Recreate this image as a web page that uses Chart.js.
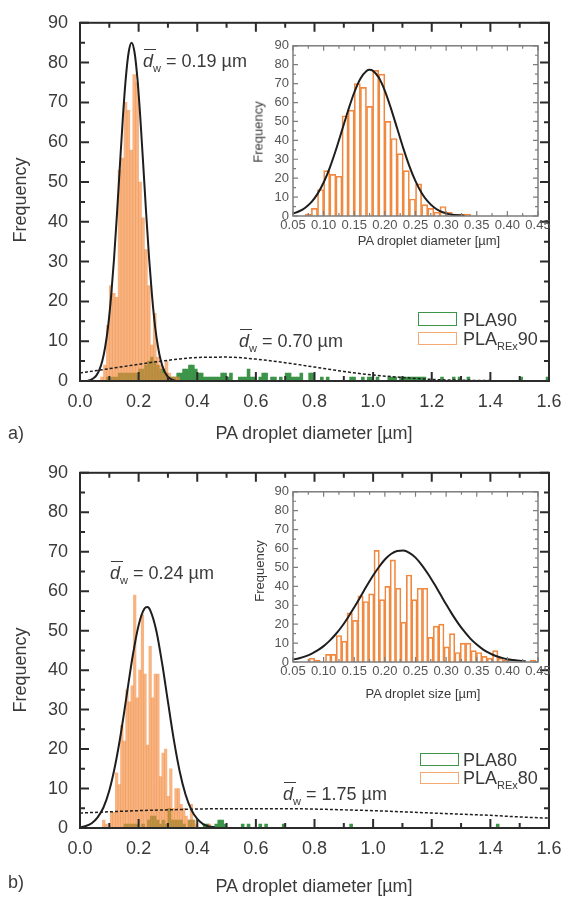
<!DOCTYPE html>
<html lang="en">
<head>
<meta charset="utf-8">
<title>PA droplet size distributions</title>
<script src="https://cdn.jsdelivr.net/npm/chart.js@4.4.1/dist/chart.umd.min.js"></script>
<style>
  body { margin: 0; background: #fff; }
  #fig { position: relative; width: 565px; height: 897px; overflow: hidden;
         font-family: 'Liberation Sans', Arial, sans-serif; color: #3a3a3a; }
  #fig canvas { position: absolute; }
  .t { position: absolute; font-size: 18px; line-height: 1; white-space: nowrap; }
  .s { font-size: 13px; }
  .rot { transform: translate(-50%, -50%) rotate(-90deg); }
  .ctr { transform: translateX(-50%); }
  .d { font-style: italic; position: relative; }
  .d::before { content: ''; position: absolute; left: 1px; right: -3px; top: -2px;
               border-top: 1.5px solid #3a3a3a; }
  sub { font-size: 11px; line-height: 0; vertical-align: -5px; }
  .key { position: absolute; box-sizing: border-box; width: 39px; border: 1.5px solid; }
</style>
</head>
<body>
<div id="fig">
  <canvas id="mainA" width="565" height="450" style="left:0;top:0"></canvas>
  <canvas id="insetA" width="315" height="215" style="left:250px;top:34px"></canvas>
  <canvas id="mainB" width="565" height="447" style="left:0;top:450px"></canvas>
  <canvas id="insetB" width="315" height="215" style="left:250px;top:480px"></canvas>

  <!-- panel a -->
  <div class="t rot" style="left:20px;top:200px">Frequency</div>
  <div class="t ctr" style="left:314px;top:424px">PA droplet diameter [µm]</div>
  <div class="t" style="left:8px;top:424px">a)</div>
  <div class="t" style="left:143px;top:52px"><span class="d">d</span><sub>w</sub> = 0.19 µm</div>
  <div class="t" style="left:239px;top:332px"><span class="d">d</span><sub>w</sub> = 0.70 µm</div>
  <div class="t s rot" style="left:258px;top:132px">Frequency</div>
  <div class="t s ctr" style="left:429px;top:234px">PA droplet diameter [µm]</div>
  <div class="key" style="left:418px;top:312px;height:13.5px;border-color:#3b9447"></div>
  <div class="key" style="left:418px;top:331.5px;height:13px;border-color:#f4aa72"></div>
  <div class="t" style="left:463px;top:311px">PLA90</div>
  <div class="t" style="left:463px;top:330px">PLA<sub>REx</sub>90</div>

  <!-- panel b -->
  <div class="t rot" style="left:20px;top:670px">Frequency</div>
  <div class="t ctr" style="left:314px;top:877px">PA droplet diameter [µm]</div>
  <div class="t" style="left:8px;top:873px">b)</div>
  <div class="t" style="left:110px;top:564px"><span class="d">d</span><sub>w</sub> = 0.24 µm</div>
  <div class="t" style="left:283px;top:785px"><span class="d">d</span><sub>w</sub> = 1.75 µm</div>
  <div class="t s rot" style="left:259px;top:571px">Frequency</div>
  <div class="t s ctr" style="left:423px;top:687px">PA droplet size [µm]</div>
  <div class="key" style="left:420px;top:752.5px;height:13px;border-color:#3b9447"></div>
  <div class="key" style="left:420px;top:771.5px;height:12.5px;border-color:#f4aa72"></div>
  <div class="t" style="left:463px;top:751px">PLA80</div>
  <div class="t" style="left:463px;top:769px">PLA<sub>REx</sub>80</div>
</div>

<script>
// ---- axes ----
const mainXTicks = [0.0, 0.2, 0.4, 0.6, 0.8, 1.0, 1.2, 1.4, 1.6];
const insetXTicks = [0.05, 0.10, 0.15, 0.20, 0.25, 0.30, 0.35, 0.40, 0.45];
const freqTicks = [0, 10, 20, 30, 40, 50, 60, 70, 80, 90];

// ---- panel a: PLA_REx90 histogram (bin centres, 0.01 µm bins) ----
const rex90Bin = 0.01;
const rex90X = [
  0.075, 0.085, 0.095, 0.105, 0.115, 0.125, 0.135, 0.145, 0.155, 0.165,
  0.175, 0.185, 0.195, 0.205, 0.215, 0.225, 0.235, 0.245, 0.255, 0.265,
  0.275, 0.285, 0.295, 0.305, 0.315, 0.325, 0.335
];
const rex90Counts = [
  1, 4, 14, 24, 22, 21, 53, 56, 70, 68,
  58, 77, 75, 50, 41, 33, 24, 9, 17, 6,
  4, 2, 5, 2, 1, 1, 1
];

// PLA90 histogram (non-empty 0.01 µm bins only)
const pla90X = [
  0.095, 0.105, 0.115, 0.125, 0.135, 0.145, 0.155, 0.165, 0.175, 0.185,
  0.195, 0.205, 0.215, 0.225, 0.235, 0.245, 0.255, 0.265, 0.275, 0.285,
  0.295, 0.305, 0.315, 0.325, 0.335, 0.345, 0.355, 0.365, 0.375, 0.385,
  0.395, 0.405, 0.415, 0.425, 0.435, 0.445, 0.455, 0.465, 0.475, 0.485,
  0.495, 0.505, 0.515, 0.545, 0.555, 0.565, 0.575, 0.585, 0.595, 0.615,
  0.625, 0.635, 0.655, 0.665, 0.685, 0.705, 0.715, 0.725, 0.735, 0.745,
  0.755, 0.785, 0.795, 0.825, 0.845, 0.925, 0.935, 0.965, 0.985, 0.995,
  1.015, 1.055, 1.065, 1.075, 1.095, 1.105, 1.115, 1.125, 1.135, 1.145,
  1.155, 1.165, 1.175, 1.235, 1.275, 1.295, 1.325, 1.505, 1.595
];
const pla90Counts = [
  1, 1, 1, 1, 2, 2, 2, 2, 2, 2,
  2, 3, 3, 4, 5, 6, 5, 4, 3, 3,
  2, 1, 1, 1, 2, 2, 3, 3, 4, 4,
  3, 2, 2, 1, 1, 1, 1, 1, 1, 2,
  2, 1, 2, 1, 1, 1, 3, 1, 1, 1,
  2, 2, 1, 1, 1, 2, 2, 1, 1, 1,
  2, 2, 2, 1, 1, 1, 1, 1, 1, 1,
  1, 1, 1, 1, 1, 1, 1, 1, 1, 1,
  1, 1, 1, 1, 1, 1, 1, 1, 1
];

// fitted curves
const fitRex90X = [
  0.026, 0.036, 0.046, 0.056, 0.066, 0.076, 0.086, 0.096, 0.106, 0.116, 0.126,
  0.136, 0.146, 0.156, 0.166, 0.176, 0.186, 0.196, 0.206, 0.216, 0.226,
  0.236, 0.246, 0.256, 0.266, 0.276, 0.286, 0.296, 0.306, 0.316, 0.326
];
const fitRex90Y = [
  0.1, 0.3, 0.7, 1.4, 2.8, 5.0, 8.6, 13.8, 21.2, 30.6, 41.8,
  54.0, 65.9, 75.9, 82.6, 85.0, 82.6, 75.9, 65.9, 54.0, 41.8,
  30.6, 21.2, 13.8, 8.6, 5.0, 2.8, 1.4, 0.7, 0.3, 0.1
];
const fitPla90X = [0, 0.1, 0.2, 0.3, 0.4, 0.5, 0.6, 0.7, 0.8, 0.9, 1.0, 1.1, 1.2, 1.3, 1.4, 1.5, 1.6];
const fitPla90Y = [2.0, 3.1, 4.2, 5.2, 5.9, 6.0, 5.5, 4.6, 3.5, 2.4, 1.5, 0.9, 0.4, 0.2, 0.1, 0.03, 0.01];
const insetFit90X = [
  0.05, 0.06, 0.07, 0.08, 0.09, 0.10, 0.11, 0.12, 0.13, 0.14, 0.15, 0.16, 0.17, 0.175,
  0.18, 0.19, 0.20, 0.21, 0.22, 0.23, 0.24, 0.25, 0.26, 0.27, 0.28, 0.29, 0.30, 0.31, 0.32, 0.33
];
const insetFit90Y = [
  1.3, 2.5, 4.4, 7.3, 11.7, 17.7, 25.5, 34.9, 45.3, 55.8, 65.3, 72.6, 76.7, 77.3,
  76.9, 73.2, 66.2, 56.8, 46.4, 35.9, 26.4, 18.4, 12.2, 7.7, 4.6, 2.6, 1.4, 0.7, 0.35, 0.16
];

// ---- panel b: PLA_REx80 histogram (0.0088 µm bins) ----
const rex80Bin = 0.0088;
const rex80X = [
  0.0810, 0.0898, 0.0986, 0.1074, 0.1162, 0.1250, 0.1338, 0.1426, 0.1514, 0.1602,
  0.1690, 0.1778, 0.1866, 0.1954, 0.2042, 0.2130, 0.2218, 0.2306, 0.2394, 0.2482,
  0.2570, 0.2658, 0.2746, 0.2834, 0.2922, 0.3010, 0.3098, 0.3186, 0.3274, 0.3362,
  0.3450, 0.3538, 0.3626, 0.3714, 0.3802, 0.3890, 0.3978, 0.4066, 0.4154, 0.4242,
  0.4330, 0.4418
];
const rex80Counts = [
  2, 1, 0, 4, 4, 14, 11, 26, 22, 35,
  32, 36, 59, 33, 40, 54, 39, 21, 46, 33,
  39, 39, 13, 19, 20, 8, 15, 5, 10, 10,
  6, 5, 3, 2, 6, 2, 1, 0, 0, 0,
  0, 1
];

// PLA80 histogram (non-empty 0.01 µm bins only)
const plaBin = 0.01;
const pla80X = [
  0.155, 0.165, 0.175, 0.185, 0.195, 0.215, 0.235, 0.245, 0.255, 0.265,
  0.275, 0.285, 0.295, 0.305, 0.315, 0.325, 0.335, 0.345, 0.355, 0.375,
  0.385, 0.425, 0.435, 0.465, 0.475, 0.485, 0.495, 0.555, 0.575, 0.615,
  0.635, 0.695, 0.925, 1.425
];
const pla80Counts = [
  1, 1, 1, 1, 1, 1, 2, 3, 3, 2,
  1, 2, 1, 5, 2, 2, 2, 2, 1, 2,
  2, 1, 1, 1, 2, 2, 1, 1, 1, 1,
  1, 1, 1, 1
];

// fitted curves
const fitRex80X = [
  0.00, 0.02, 0.04, 0.06, 0.08, 0.10, 0.12, 0.14, 0.16, 0.18, 0.20, 0.22, 0.23,
  0.24, 0.26, 0.28, 0.30, 0.32, 0.34, 0.36, 0.38, 0.40, 0.42, 0.44, 0.46
];
const fitRex80Y = [
  0.2, 0.5, 1.2, 2.7, 5.2, 9.5, 15.9, 24.2, 34.0, 43.7, 51.4, 55.6, 56.0,
  55.1, 50.1, 41.8, 32.0, 22.4, 14.4, 8.5, 4.6, 2.3, 1.0, 0.4, 0.2
];
const fitPla80X = [0, 0.1, 0.2, 0.3, 0.4, 0.5, 0.6, 0.7, 0.8, 0.9, 1.0, 1.1, 1.2, 1.3, 1.4, 1.5, 1.6];
const fitPla80Y = [3.8, 4.1, 4.4, 4.6, 4.8, 4.9, 4.9, 4.9, 4.8, 4.6, 4.4, 4.1, 3.8, 3.5, 3.2, 2.8, 2.5];
const insetFit80X = [
  0.05, 0.06, 0.07, 0.08, 0.09, 0.10, 0.11, 0.12, 0.13, 0.14, 0.15, 0.16, 0.17,
  0.18, 0.19, 0.20, 0.21, 0.22, 0.23, 0.24, 0.25, 0.26, 0.27, 0.28, 0.29, 0.30,
  0.31, 0.32, 0.33, 0.34, 0.35, 0.36, 0.37, 0.38, 0.39, 0.40, 0.41, 0.42, 0.43
];
const insetFit80Y = [
  1.3, 2.0, 3.0, 4.3, 6.1, 8.4, 11.3, 14.8, 18.9, 23.7, 28.9, 34.4, 40.0,
  45.3, 50.1, 54.2, 57.1, 58.7, 58.9, 57.7, 55.2, 51.4, 46.8, 41.6, 36.1, 30.5,
  25.2, 20.3, 16.0, 12.2, 9.2, 6.7, 4.8, 3.3, 2.3, 1.5, 1.0, 0.6, 0.4
];

const FONT = "'Liberation Sans', Arial, sans-serif";
const TEXT = '#3a3a3a';
const GREEN = '#3b9447';
// plot widths are fixed by the layout below, so px per µm is known
const MAIN_PX_PER_UM = 469 / 1.6;
const INSET_PX_PER_UM = 245 / 0.4;

// Inward ticks on all four sides plus the box frame
const frameTicks = {
    id: 'frameTicks',
    afterDraw(chart, args, o) {
        const { ctx, chartArea: a } = chart;
        const x = chart.scales.x, y = chart.scales.y;
        ctx.save();
        ctx.strokeStyle = o.color;
        ctx.lineWidth = o.tickWidth;
        ctx.beginPath();
        const nx = Math.round((x.max - x.min) / o.xMinor);
        for (let k = 0; k <= nx; k++) {
            const px = x.getPixelForValue(x.min + k * o.xMinor);
            const len = k % 2 === 0 ? o.major : o.minor;
            ctx.moveTo(px, a.bottom); ctx.lineTo(px, a.bottom - len);
            ctx.moveTo(px, a.top); ctx.lineTo(px, a.top + len);
        }
        const ny = Math.round((y.max - y.min) / o.yMinor);
        for (let k = 0; k <= ny; k++) {
            const py = y.getPixelForValue(y.min + k * o.yMinor);
            const len = k % 2 === 0 ? o.major : o.minor;
            ctx.moveTo(a.left, py); ctx.lineTo(a.left + len, py);
            ctx.moveTo(a.right, py); ctx.lineTo(a.right - len, py);
        }
        ctx.stroke();
        ctx.lineWidth = o.frameWidth;
        ctx.strokeRect(a.left, a.top, a.right - a.left, a.bottom - a.top);
        ctx.restore();
    }
};

const Figure = {
    charts: [],

    init() {
        this.renderMain('mainA', 20, {
            rex: [rex90X, rex90Counts, rex90Bin], pla: [pla90X, pla90Counts, plaBin],
            fit: [fitRex90X, fitRex90Y], broad: [fitPla90X, fitPla90Y]
        });
        this.renderInset('insetA', [rex90X, rex90Counts, rex90Bin], [insetFit90X, insetFit90Y]);
        this.renderMain('mainB', 15, {
            rex: [rex80X, rex80Counts, rex80Bin], pla: [pla80X, pla80Counts, plaBin],
            fit: [fitRex80X, fitRex80Y], broad: [fitPla80X, fitPla80Y]
        });
        this.renderInset('insetB', [rex80X, rex80Counts, rex80Bin], [insetFit80X, insetFit80Y]);
    },

    points(xs, ys) {
        return xs.map((x, i) => ({ x: x, y: ys[i] }));
    },

    curve(pair, width, dash) {
        return {
            type: 'line',
            data: this.points(pair[0], pair[1]),
            borderColor: '#1e1e1e',
            borderWidth: width,
            borderDash: dash,
            pointRadius: 0,
            fill: false,
            cubicInterpolationMode: 'monotone',
            order: 0
        };
    },

    yAxis(size, padding, width, color) {
        return {
            min: 0, max: 90,
            grid: { display: false, tickLength: 0 }, border: { display: false },
            afterBuildTicks: s => { s.ticks = freqTicks.map(v => ({ value: v })); },
            ticks: { font: { family: FONT, size: size }, color: color, padding: padding },
            afterFit: s => { s.width = width; }
        };
    },

    // x axis; label overflow is left to the layout padding
    xAxis(range, ticks, size, padding, height, color, digits) {
        return {
            type: 'linear', min: range[0], max: range[1], offset: false,
            grid: { display: false, tickLength: 0 }, border: { display: false },
            afterBuildTicks: s => { s.ticks = ticks.map(v => ({ value: v })); },
            ticks: {
                font: { family: FONT, size: size }, color: color, padding: padding,
                maxRotation: 0, autoSkip: false,
                callback: v => v.toFixed(digits)
            },
            afterFit: s => { s.height = height; s.paddingLeft = 0; s.paddingRight = 0; }
        };
    },

    // Main histogram panel
    renderMain(id, top, d) {
        const ctx = document.getElementById(id);
        const chart = new Chart(ctx, {
            type: 'bar',
            data: {
                datasets: [
                    this.curve(d.fit, 2, []),
                    this.curve(d.broad, 1.5, [3, 2]),
                    {
                        type: 'bar',
                        data: this.points(d.rex[0], d.rex[1]),
                        backgroundColor: 'rgba(243, 140, 63, 0.65)',
                        borderWidth: 0,
                        grouped: false,
                        barThickness: d.rex[2] * MAIN_PX_PER_UM,
                        order: 1
                    },
                    {
                        type: 'bar',
                        xAxisID: 'xg',
                        data: this.points(d.pla[0], d.pla[1]),
                        backgroundColor: GREEN,
                        borderWidth: 0,
                        grouped: false,
                        barThickness: d.pla[2] * MAIN_PX_PER_UM,
                        order: 2
                    }
                ]
            },
            options: {
                responsive: false,
                animation: false,
                devicePixelRatio: 1,
                layout: { padding: { left: 0, top: top, right: 16, bottom: 0 } },
                plugins: {
                    legend: { display: false },
                    tooltip: { enabled: false },
                    frameTicks: { color: '#2b2b2b', tickWidth: 2, frameWidth: 2, major: 9, minor: 5, xMinor: 0.1, yMinor: 5 }
                },
                scales: {
                    x: this.xAxis([0, 1.6], mainXTicks, 18, 10, 69, TEXT, 1),
                    xg: { type: 'linear', min: 0, max: 1.6, offset: false, display: false },
                    y: this.yAxis(18, 12, 80, TEXT)
                }
            },
            plugins: [frameTicks]
        });
        this.charts.push(chart);
    },

    // Inset: REx histogram alone, hollow bars
    renderInset(id, rex, fit) {
        const ctx = document.getElementById(id);
        const chart = new Chart(ctx, {
            type: 'bar',
            data: {
                datasets: [
                    this.curve(fit, 2, []),
                    {
                        type: 'bar',
                        data: this.points(rex[0], rex[1]),
                        backgroundColor: 'rgba(255, 255, 255, 0)',
                        borderColor: '#f0893f',
                        borderWidth: 1,
                        borderSkipped: 'start',
                        grouped: false,
                        barThickness: rex[2] * INSET_PX_PER_UM,
                        order: 1
                    }
                ]
            },
            options: {
                responsive: false,
                animation: false,
                devicePixelRatio: 1,
                layout: { padding: { left: 0, top: 10, right: 27, bottom: 0 } },
                plugins: {
                    legend: { display: false },
                    tooltip: { enabled: false },
                    frameTicks: { color: '#7d7d7d', tickWidth: 1.2, frameWidth: 1.5, major: 5, minor: 3, xMinor: 0.025, yMinor: 5 }
                },
                scales: {
                    x: this.xAxis([0.05, 0.45], insetXTicks, 13, 2, 33, '#555', 2),
                    y: this.yAxis(13, 4, 43, '#555')
                }
            },
            plugins: [frameTicks]
        });
        this.charts.push(chart);
    }
};

Figure.init();
</script>
</body>
</html>
